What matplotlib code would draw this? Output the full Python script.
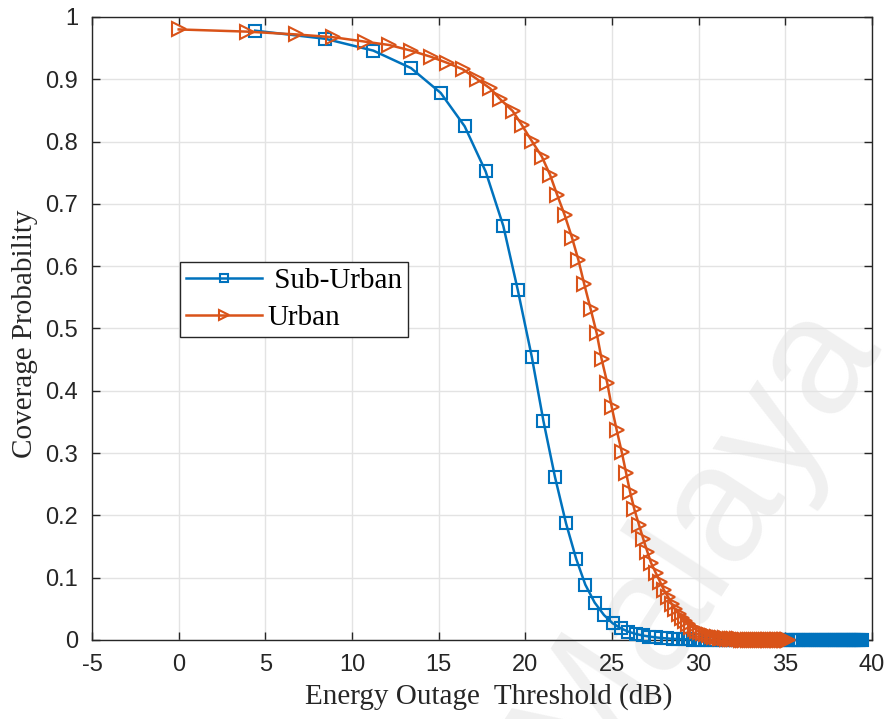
import matplotlib
matplotlib.use("Agg")
import matplotlib.pyplot as plt
from matplotlib.ticker import MultipleLocator, FuncFormatter

plt.rcParams["axes.unicode_minus"] = False

# Energy outage threshold (dB) and coverage probability, sub-urban scenario
suburban_x = [4.41, 8.45, 11.23, 13.40, 15.12, 16.50, 17.71, 18.73, 19.56, 20.37,
              21.04, 21.71, 22.35, 22.93, 23.46, 24.00, 24.54, 25.04, 25.50, 25.94,
              26.39, 26.78, 27.15, 27.51, 27.85, 28.19, 28.50, 28.81, 29.11, 29.40,
              29.67, 29.94, 30.21, 30.46, 30.71, 30.95, 31.18, 31.41, 31.63, 31.84,
              32.05, 32.26, 32.46, 32.66, 32.85, 33.04, 33.22, 33.40, 33.58, 33.75,
              33.92, 34.09, 34.25, 34.41, 34.57, 34.72, 34.87, 35.02, 35.17, 35.31,
              35.46, 35.59, 35.73, 35.87, 36.00, 36.13, 36.26, 36.39, 36.51, 36.64,
              36.76, 36.88, 37.00, 37.12, 37.23, 37.34, 37.46, 37.57, 37.68, 37.79,
              37.89, 38.00, 38.10, 38.21, 38.31, 38.41, 38.51, 38.61, 38.70, 38.80,
              38.90, 38.99, 39.08, 39.18, 39.27, 39.36, 39.45]
suburban_p = [0.978, 0.965, 0.946, 0.918, 0.878, 0.8245, 0.752, 0.6645, 0.5623, 0.4548,
              0.352, 0.2616, 0.187, 0.1305, 0.0888, 0.060, 0.040, 0.0268, 0.0188, 0.0133,
              0.0096, 0.0072, 0.0055, 0.0042, 0.0032, 0.0025, 0.0019, 0.0015, 0.0012, 0.0009,
              0.0007, 0.0005, 0.0004, 0.0003, 0.0002, 0.0002, 0.0001, 0.0001, 0.0001, 0.0001,
              0, 0, 0, 0, 0, 0, 0, 0, 0, 0,
              0, 0, 0, 0, 0, 0, 0, 0, 0, 0,
              0, 0, 0, 0, 0, 0, 0, 0, 0, 0,
              0, 0, 0, 0, 0, 0, 0, 0, 0, 0,
              0, 0, 0, 0, 0, 0, 0, 0, 0, 0,
              0, 0, 0, 0, 0, 0, 0]

# Urban scenario
urban_x = [0.00, 3.92, 6.77, 8.92, 10.75, 12.15, 13.40, 14.56, 15.46, 16.39,
           17.20, 17.96, 18.55, 19.27, 19.79, 20.37, 20.95, 21.42, 21.83, 22.27,
           22.69, 23.06, 23.40, 23.77, 24.12, 24.40, 24.73, 24.98, 25.27, 25.56,
           25.81, 26.04, 26.29, 26.56, 26.81, 27.04, 27.25, 27.52, 27.77, 28.00,
           28.25, 28.44, 28.64, 28.84, 29.03, 29.22, 29.40, 29.58, 29.76, 29.93,
           30.10, 30.27, 30.43, 30.59, 30.75, 30.91, 31.06, 31.21, 31.35, 31.50,
           31.64, 31.78, 31.92, 32.05, 32.19, 32.32, 32.45, 32.58, 32.70, 32.83,
           32.95, 33.07, 33.19, 33.30, 33.42, 33.53, 33.65, 33.76, 33.87, 33.98,
           34.08, 34.19, 34.29, 34.40, 34.50, 34.60, 34.70, 34.80, 34.90, 34.99,
           35.09, 35.18]
urban_p = [0.980, 0.9765, 0.972, 0.9675, 0.9604, 0.955, 0.946, 0.936, 0.9267, 0.916,
           0.9005, 0.8855, 0.868, 0.849, 0.827, 0.801, 0.776, 0.747, 0.715, 0.682,
           0.646, 0.610, 0.571, 0.531, 0.492, 0.451, 0.412, 0.3745, 0.337, 0.302,
           0.2686, 0.238, 0.2097, 0.1846, 0.1616, 0.1417, 0.124, 0.108, 0.0936, 0.080,
           0.0685, 0.058, 0.049, 0.042, 0.0355, 0.030, 0.0255, 0.0215, 0.018, 0.0152,
           0.0128, 0.0108, 0.0091, 0.0077, 0.0065, 0.0055, 0.0046, 0.0039, 0.0033, 0.0028,
           0.0023, 0.0019, 0.0016, 0.0013, 0.0011, 0.0009, 0.0007, 0.0006, 0.0005, 0.0004,
           0.0003, 0.0002, 0.0002, 0.0002, 0.0001, 0.0001, 0.0001, 0.0001, 0, 0,
           0, 0, 0, 0, 0, 0, 0, 0, 0, 0,
           0, 0]

series_labels = [" Sub-Urban", "Urban"]
x_label = "Energy Outage  Threshold (dB)"
y_label = "Coverage Probability"

BLUE = "#0072BD"
ORANGE = "#D95319"
SERIF = ["Liberation Serif", "DejaVu Serif"]
TICKFONT = ["Liberation Sans", "DejaVu Sans"]

fig = plt.figure(figsize=(8.96, 7.19), dpi=100)
ax = fig.add_axes([0.1027, 0.1099, 0.8705, 0.8665], zorder=1)
ax.set_facecolor("none")

# faint watermark behind the plot
fig.text(0.775, 0.25, "Malaya", rotation=57, color="#f0f0f0", fontsize=120,
         family=["Liberation Sans", "DejaVu Sans"], ha="center", va="center", zorder=0)

# markers sitting on y = 0 are drawn whole, not cut at the axis line
ax.plot(suburban_x, suburban_p, color=BLUE, lw=1.8, marker="s", ms=8.5,
        mfc="none", mec=BLUE, mew=1.5, label=series_labels[0], zorder=3, clip_on=False)
ax.plot(urban_x, urban_p, color=ORANGE, lw=1.8, marker=">", ms=10,
        mfc="none", mec=ORANGE, mew=1.5, label=series_labels[1], zorder=4, clip_on=False)

ax.set_xlim(-5, 40)
ax.set_ylim(0, 1)
ax.xaxis.set_major_locator(MultipleLocator(5))
ax.yaxis.set_major_locator(MultipleLocator(0.1))
ax.yaxis.set_major_formatter(FuncFormatter(lambda v, p: "%g" % round(v, 1)))
ax.grid(True, color="#e3e3e3", lw=1.0)
ax.set_axisbelow(True)

for s in ax.spines.values():
    s.set_color("#262626")
    s.set_linewidth(1.0)
ax.tick_params(direction="in", length=6, width=1.0, color="#262626",
               top=True, right=True, labelsize=17, pad=10, labelcolor="#262626")
for lab in ax.get_xticklabels() + ax.get_yticklabels():
    lab.set_family(TICKFONT)

ax.set_xlabel(x_label, family=SERIF, fontsize=21, color="#262626")
ax.set_ylabel(y_label, family=SERIF, fontsize=21, color="#262626")
ax.xaxis.set_label_coords(0.5085, -0.0915, transform=ax.transAxes)
ax.yaxis.set_label_coords(-0.0855, 0.491, transform=ax.transAxes)
ax.xaxis.label.set_va("center")
ax.yaxis.label.set_va("center")

leg = ax.legend(loc="upper left", bbox_to_anchor=(0.1128, 0.6067), borderaxespad=0,
                prop={"family": SERIF, "size": 21}, fancybox=False, framealpha=1,
                edgecolor="#262626", handlelength=2.6, handletextpad=0.2,
                labelspacing=0.36, borderpad=0.2, markerscale=0.7)
leg.get_frame().set_linewidth(1.0)

fig.savefig("out.png", dpi=100)
